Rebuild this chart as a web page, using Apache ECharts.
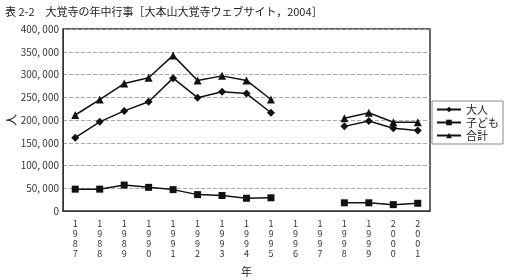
<!DOCTYPE html>
<html lang="ja">
<head>
<meta charset="utf-8">
<style>
  html, body { margin: 0; padding: 0; background: #fff; }
  #container { width: 506px; height: 280px; }
</style>
</head>
<body>
<div id="container"></div>
<script src="https://cdn.jsdelivr.net/npm/echarts@6/dist/echarts.min.js"></script>
<script>
var years = ['1987','1988','1989','1990','1991','1992','1993','1994','1995','1996','1997','1998','1999','2000','2001'];
var adults = [161000, 196000, 220000, 240000, 292000, 249000, 262000, 258000, 216000, null, null, 186000, 198000, 182000, 177000];
var children = [48000, 48000, 57000, 52000, 47000, 36000, 34000, 28000, 29000, null, null, 18000, 18000, 14000, 17000];
var totals = [211000, 245000, 280000, 293000, 342000, 287000, 297000, 287000, 245000, null, null, 204000, 216000, 195000, 195000];

var font = '"Noto Sans CJK JP", sans-serif';
var myChart = echarts.init(document.getElementById('container'), null, { renderer: 'canvas' });

function lineSeries(name, data, symbol, size) {
  return {
    name: name,
    type: 'line',
    data: data,
    connectNulls: false,
    symbol: symbol,
    symbolSize: size,
    lineStyle: { color: '#111', width: 1.5 },
    itemStyle: { color: '#111' },
    animation: false
  };
}

var option = {
  backgroundColor: '#fff',
  textStyle: { fontFamily: font },
  title: {
    text: '表 2-2　大覚寺の年中行事［大本山大覚寺ウェブサイト，2004］',
    left: 0,
    top: 1,
    textStyle: { fontSize: 11, fontWeight: 'normal', color: '#222', fontFamily: font }
  },
  grid: {
    left: 63, right: 76, top: 29, bottom: 69,
    outerBoundsMode: 'none',
    containLabel: false,
    show: true, borderColor: '#333', borderWidth: 1.5
  },
  legend: {
    orient: 'vertical',
    right: 3,
    top: 101,
    itemWidth: 24,
    itemHeight: 7,
    itemGap: 2,
    padding: [3, 4],
    borderColor: '#888',
    borderWidth: 1,
    textStyle: { fontSize: 11, color: '#222', fontFamily: font },
    data: ['大人', '子ども', '合計']
  },
  xAxis: {
    type: 'category',
    data: years,
    boundaryGap: true,
    name: '年',
    nameLocation: 'middle',
    nameGap: 55,
    nameTextStyle: { fontSize: 11, color: '#222' },
    axisLine: { show: true, lineStyle: { color: '#333' } },
    axisTick: { show: false },
    axisLabel: {
      interval: 0,
      margin: 8,
      fontSize: 9,
      lineHeight: 10,
      color: '#333',
      formatter: function (v) { return v.split('').join('\n'); }
    }
  },
  yAxis: {
    type: 'value',
    min: 0,
    max: 400000,
    interval: 50000,
    name: '人',
    nameLocation: 'middle',
    nameRotate: 90,
    nameGap: 46,
    nameMoveOverlap: false,
    nameTextStyle: { fontSize: 12, color: '#222' },
    axisLine: { show: true, lineStyle: { color: '#333' } },
    axisTick: { show: false },
    splitLine: { lineStyle: { color: '#aaa', type: 'dashed', width: 1 } },
    axisLabel: {
      fontSize: 10,
      color: '#333',
      margin: 4,
      formatter: function (v) {
        if (v === 0) return '0';
        var s = String(v);
        return s.slice(0, s.length - 3) + ', ' + s.slice(-3);
      }
    }
  },
  series: [
    lineSeries('大人', adults, 'diamond', 8),
    lineSeries('子ども', children, 'rect', 7),
    lineSeries('合計', totals, 'triangle', 8)
  ]
};

myChart.setOption(option);
window.addEventListener('resize', myChart.resize);
</script>
</body>
</html>
